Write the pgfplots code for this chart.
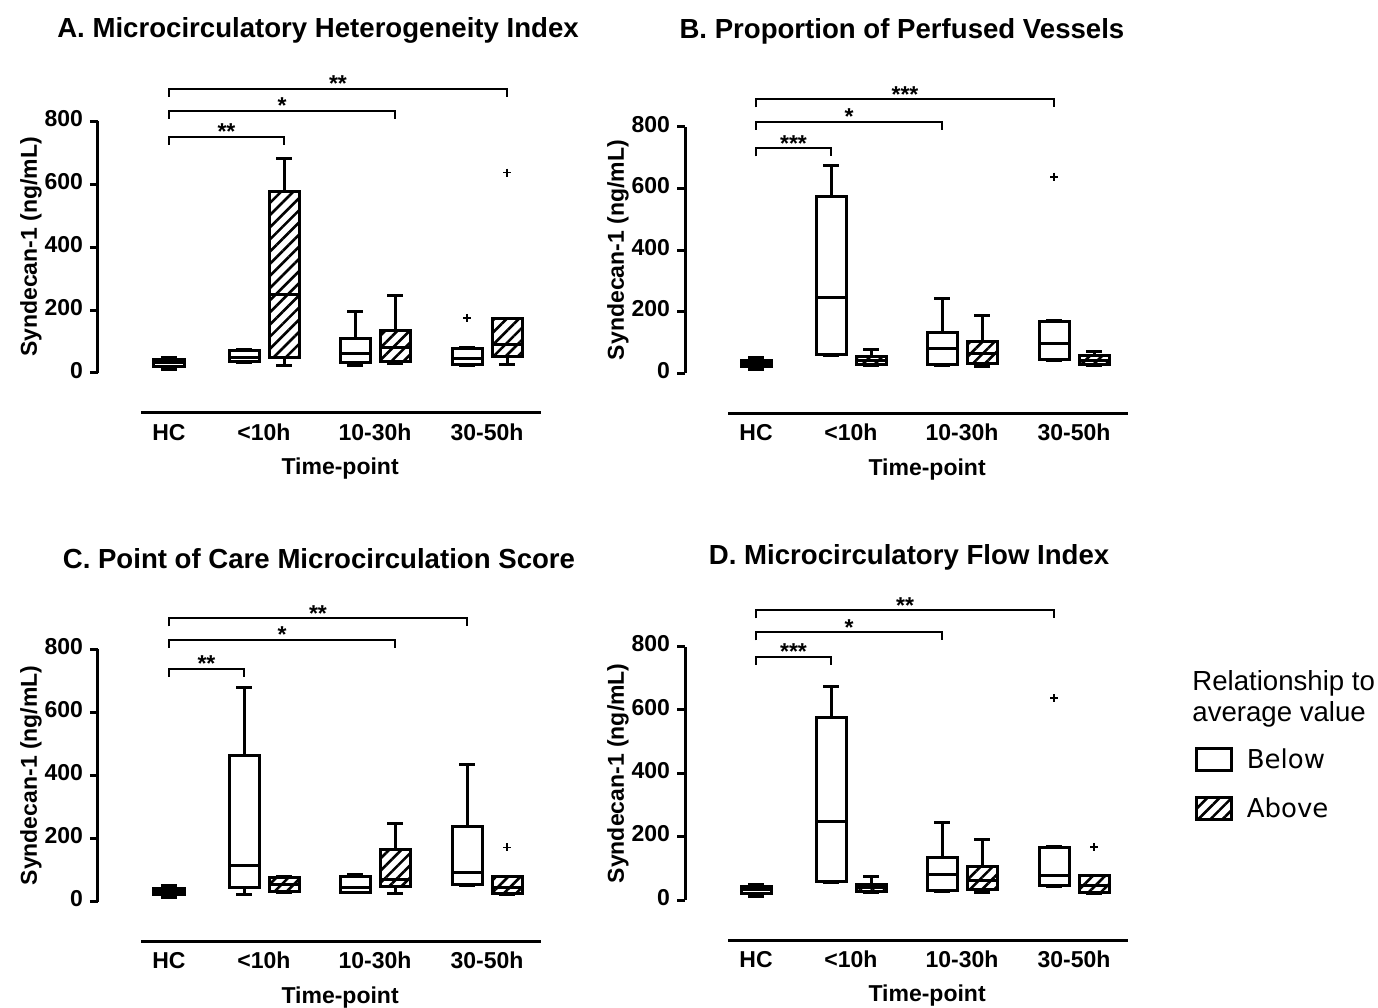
\documentclass[border=0pt]{standalone}
\usepackage{pgfplots}
\pgfplotsset{compat=1.18}
\usepgfplotslibrary{statistics}
\usetikzlibrary{patterns.meta}
\usepackage{fontspec}
\setmainfont{Liberation Sans}
\newfontfamily\dejavu{DejaVu Sans}
\newcommand\afont{\fontsize{11.5}{13}\selectfont\bfseries}
\newcommand\tfont{\fontsize{13.8}{16}\selectfont\bfseries}
\tikzset{hatch/.style={pattern={Lines[angle=45,distance=4.3pt,line width=1.3pt]}}}
\pgfplotsset{
  panel/.style={
    scale only axis, width=225pt,
    xmin=0, xmax=450, ymin=0, ymax=800,
    clip=false, anchor=south west,
    axis y line*=left, axis x line*=bottom,
    x axis line style={draw=none},
    y axis line style={-, line width=1.5pt},
    xtick={71,166,277,389}, xticklabels={HC,{<10h},10-30h,30-50h},
    xtick style={draw=none},
    ytick={0,200,400,600,800},
    ytick style={line width=1.5pt, black},
    tick align=outside, major tick length=4pt,
    /pgf/number format/assume math mode=true,
    tick label style={font=\afont},
    typeset ticklabels with strut,
    xticklabel style={yshift=-17pt},
    label style={font=\afont},
    ylabel={Syndecan-1 (ng/mL)},
    ylabel style={at={(axis description cs:-0.149,0.5)}, anchor=center},
    xlabel={Time-point},
    xlabel style={at={(axis description cs:0.538,0)}, yshift=-48pt, anchor=center},
    title style={font=\tfont, anchor=center},
  },
  bp/.style={black, line width=1.5pt, solid, mark=+, mark size=2pt,
    mark options={line width=0.8pt}, forget plot, boxplot/draw direction=y},
  below/.style={bp, boxplot/every box/.style={fill=white}},
  above/.style={bp, boxplot/every box/.style={hatch}},
}
\newcommand\bx[7]{% style, pos, lw, q1, med, q3, uw
  \addplot[#1, boxplot prepared={draw position=#2, box extend=30, whisker extend=16,
    lower whisker=#3, lower quartile=#4, median=#5, upper quartile=#6, upper whisker=#7}] coordinates {};}
\newcommand\bxo[8]{% with one outlier
  \addplot[#1, boxplot prepared={draw position=#2, box extend=30, whisker extend=16,
    lower whisker=#3, lower quartile=#4, median=#5, upper quartile=#6, upper whisker=#7}]
    table[row sep=\\, y index=0] {data\\ #8\\};}
\newcommand\sig[4]{%
  \draw[line width=1pt] ([yshift=-4pt]axis cs:#1,#3) -- (axis cs:#1,#3) -- (axis cs:#2,#3) -- ([yshift=-4pt]axis cs:#2,#3);
  \node[anchor=base, inner sep=0pt, font=\afont, yshift=-1.5pt] at (axis cs:{(#1+#2)/2},#3) {#4};}
\newcommand\xline{\draw[line width=1.5pt] ([yshift=-20pt]axis cs:43,0) -- ([yshift=-20pt]axis cs:443,0);}
\begin{document}
\begin{tikzpicture}
\useasboundingbox (0,0) rectangle (689pt,504pt);
% ---------------- A
\begin{axis}[panel, at={(49pt,317.5pt)}, height=126pt,
  title={A. Microcirculatory Heterogeneity Index},
  title style={at={(axis description cs:0.489,1)}, yshift=39.5pt}]
\bx{below}{71}{12}{22}{32}{42}{50}
\bx{below}{146}{33}{38}{50}{72}{76}
\bx{above}{186}{25}{50}{249}{577}{680}
\bx{below}{257}{25}{32}{63}{111}{196}
\bx{above}{297}{30}{35}{80}{136}{246}
\bxo{below}{369}{25}{28}{45}{79}{80}{175}
\bxo{above}{409}{26}{53}{90}{172}{172}{636}
\sig{71}{409}{902}{**}
\sig{71}{297}{832}{*}
\sig{71}{186}{750}{**}
\xline
\end{axis}
% ---------------- B
\begin{axis}[panel, at={(342.5pt,317.3pt)}, height=123.3pt,
  title={B. Proportion of Perfused Vessels},
  title style={at={(axis description cs:0.482,1)}, yshift=41.5pt}]
\bx{below}{71}{12}{22}{32}{42}{50}
\bx{below}{146}{59}{60}{245}{573}{676}
\bx{above}{186}{25}{30}{42}{56}{76}
\bx{below}{257}{27}{30}{81}{132}{243}
\bx{above}{297}{22}{32}{65}{105}{189}
\bxo{below}{369}{43}{45}{97}{168}{170}{638}
\bx{above}{409}{25}{28}{42}{58}{72}
\sig{71}{369}{889}{***}
\sig{71}{257}{816}{*}
\sig{71}{146}{730}{***}
\xline
\end{axis}
% ---------------- C
\begin{axis}[panel, at={(49pt,53.2pt)}, height=126.2pt,
  title={C. Point of Care Microcirculation Score},
  title style={at={(axis description cs:0.491,1)}, yshift=39.5pt}]
\bx{below}{71}{12}{22}{32}{42}{50}
\bx{below}{146}{24}{44}{113}{463}{679}
\bx{above}{186}{28}{32}{55}{77}{80}
\bx{below}{257}{28}{30}{45}{78}{85}
\bx{above}{297}{26}{48}{69}{166}{248}
\bx{below}{369}{50}{53}{92}{238}{433}
\bxo{above}{409}{24}{26}{45}{79}{80}{172}
\sig{71}{369}{898}{**}
\sig{71}{297}{830}{*}
\sig{71}{146}{738}{**}
\xline
\end{axis}
% ---------------- D
\begin{axis}[panel, at={(342.5pt,54pt)}, height=126.7pt,
  title={D. Microcirculatory Flow Index},
  title style={at={(axis description cs:0.498,1)}, yshift=38.5pt},
  legend style={at={(axis description cs:1.133,0.605)}, anchor=north west,
    draw=none, fill=none, inner sep=0pt, outer sep=0pt,
    row sep=12pt, column sep=7pt,
    font=\dejavu\fontsize{13}{15}\selectfont, nodes={inner sep=0pt}},
  legend cell align=left]
\bx{below}{71}{12}{22}{32}{42}{50}
\bx{below}{146}{55}{57}{247}{576}{674}
\bx{above}{186}{25}{28}{40}{50}{74}
\bx{below}{257}{26}{29}{82}{134}{245}
\bx{above}{297}{23}{32}{63}{107}{192}
\bxo{below}{369}{42}{47}{77}{166}{168}{637}
\bxo{above}{409}{21}{23}{45}{76}{78}{168}
\sig{71}{369}{914}{**}
\sig{71}{257}{845}{*}
\sig{71}{146}{768}{***}
\xline
\addlegendimage{legend image code/.code={\draw[line width=1.5pt, fill=white] (0pt,-5pt) rectangle (17.5pt,6pt);}}
\addlegendentry{Below}
\addlegendimage{legend image code/.code={\draw[line width=1.5pt, hatch] (0pt,-5pt) rectangle (17.5pt,6pt);}}
\addlegendentry{Above}
\end{axis}
\node[anchor=base west, align=left, inner sep=0pt, font=\fontsize{13.8}{15.5}\selectfont] at (596pt,143.15pt) {Relationship to\\average value};
\end{tikzpicture}
\end{document}
